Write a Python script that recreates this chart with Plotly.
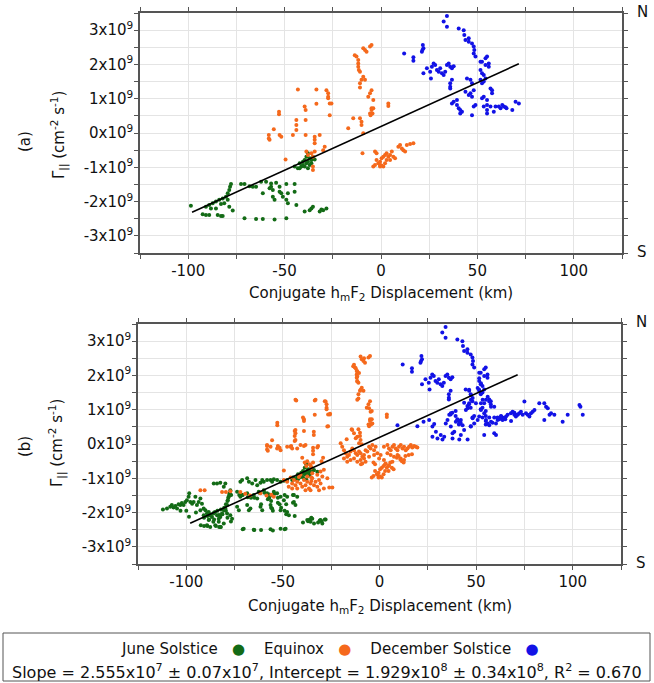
import plotly.graph_objects as go

W, H = 654, 683

# ---------------- DATA (x: km, y: flux in units of 1e9 cm^-2 s^-1) ----------------
june_a = [(-98.6,-2.12),(-92.5,-2.37),(-90.8,-2.39),(-89.1,-2.39),(-84.7,-2.39),(-83.0,-2.42),(-82.1,-2.42),(-76.9,-2.26),
 (-90.8,-2.15),(-89.1,-2.10),(-88.2,-2.20),(-87.3,-2.05),(-85.6,-2.00),(-83.9,-1.95),(-83.0,-2.07),(-82.1,-1.91),(-80.4,-1.86),
 (-79.5,-1.76),(-78.7,-1.66),(-78.3,-1.57),(-77.8,-1.49),(-79.5,-1.95),(-85.6,-2.20),(-78.7,-2.15),(-81.3,-2.05),
 (-70.8,-2.49),(-64.8,-2.51),(-61.3,-2.51),(-55.2,-2.52),(-49.1,-2.49),
 (-72.6,-1.49),(-70.8,-1.49),(-68.2,-1.55),(-66.5,-1.57),(-64.8,-1.57),(-62.2,-1.42),(-59.6,-1.42),(-57.0,-1.47),(-54.4,-1.45),
 (-61.3,-1.76),(-57.8,-1.61),(-56.1,-1.66),(-52.6,-1.57),(-49.1,-1.49),(-44.8,-1.49),(-57.0,-1.57),
 (-56.1,-1.86),(-55.2,-1.95),(-52.6,-1.71),(-50.9,-1.86),(-49.1,-1.95),(-48.3,-2.05),(-44.8,-1.71),(-43.9,-2.10),(-51.7,-1.76),(-48.3,-1.76),
 (-39.6,-2.29),(-37.0,-2.25),(-36.1,-2.20),(-35.3,-2.15),(-31.8,-2.29),(-30.9,-2.23),(-30.0,-2.25),(-28.3,-2.20),
 (-44.8,-0.98),(-43.1,-1.03),(-42.2,-0.88),(-40.5,-0.84),(-39.6,-0.79),(-38.7,-0.88),(-37.9,-0.84),(-37.0,-0.74),(-36.1,-0.79),
 (-35.3,-0.69),(-34.4,-0.77),(-41.3,-0.98),(-39.6,-0.98),(-37.9,-1.03),(-37.0,-0.93),(-36.1,-0.88),(-38.7,-0.69),(-40.5,-0.93),
 (-42.2,-1.03),(-37.9,-0.59)]

equinox_a = [(-52.9,0.62),(-52.9,0.55),(-55.6,0.11),(-58.2,-0.06),(-58.2,-0.16),(-57.8,-0.20),(-52.6,-0.06),(-51.7,-0.11),
 (-49.5,-0.77),(-45.7,-0.06),(-43.9,0.38),(-43.9,0.23),(-43.9,0.09),(-43.1,1.27),
 (-39.6,0.77),(-39.1,0.67),(-39.1,0.38),(-39.1,-0.06),
 (-33.5,1.27),(-33.5,0.85),(-34.4,-0.11),(-34.4,-0.20),(-34.4,-0.30),(-31.8,-0.06),(-28.3,1.25),(-27.4,1.16),(-27.4,1.06),
 (-27.4,1.01),(-26.6,0.86),(-26.6,0.52),(-25.7,0.86),
 (-38.7,-0.54),(-37.9,-0.64),(-36.1,-0.59),(-35.3,-0.69),(-35.3,-0.98),(-35.3,-1.08),(-34.4,-0.54),(-30.0,-0.50),(-29.2,-0.40),
 (-17.0,0.14),(-14.4,0.43),(-10.9,0.43),(-10.1,0.33),(-10.1,0.23),(-9.2,-0.01),(-9.6,-0.59),
 (-13.6,2.27),(-12.7,2.23),(-11.8,2.13),(-11.8,2.03),(-11.8,1.93),(-11.5,1.84),(-10.9,1.79),(-10.9,1.45),(-10.1,1.55),
 (-9.2,1.64),(-8.3,1.55),(-9.2,2.47),(-8.3,2.42),(-7.5,2.37),(-5.7,2.52),(-4.9,2.57),(-10.9,1.33),
 (-6.6,1.06),(-5.7,1.16),(-4.9,1.25),(-4.0,0.96),(-4.9,0.72),(-4.9,0.67),(-4.4,0.57),(-5.4,0.52),(-5.7,0.57),(-4.0,0.72),
 (3.8,0.86),(3.8,0.79),
 (-3.1,-0.54),(-2.3,-0.59),(-2.3,-0.79),(-1.4,-0.88),(-0.5,-0.93),(-0.5,-0.84),(0.3,-0.74),(1.2,-0.69),(2.1,-0.64),(2.9,-0.59),
 (3.8,-0.69),(4.7,-0.79),(4.7,-0.64),(5.6,-0.54),(6.4,-0.69),(7.3,-0.74),(-0.5,-0.98),(0.3,-0.95),(1.2,-0.98),(-4.0,-0.98),
 (-3.1,-0.93),(2.1,-0.88),(2.9,-0.79),
 (9.0,-0.40),(9.9,-0.35),(10.8,-0.45),(11.6,-0.50),(13.4,-0.35),(15.1,-0.32),(16.8,-0.30),(12.5,-0.54)]

december_a = [(32.5,3.25),(34.2,3.41),(34.2,3.10),(40.3,3.05),(42.9,3.00),(43.2,2.86),(43.8,2.71),(45.5,2.76),(45.5,2.66),
 (47.2,2.61),(48.1,2.52),(48.4,2.42),(48.1,2.32),(49.0,2.23),
 (21.7,2.57),(22.0,2.47),(21.5,2.42),(21.2,2.37),(12.0,2.32),(16.8,2.21),(16.8,2.11),
 (22.0,1.74),(23.8,1.89),(25.5,1.79),(26.4,1.93),(27.3,2.03),(28.1,1.98),(29.0,1.84),(29.9,1.79),(30.7,1.89),(31.6,1.74),
 (32.5,1.69),(33.3,1.79),(34.2,1.98),(35.1,2.03),(35.9,1.93),(36.8,1.89),(37.7,1.95),(25.9,1.59),(35.9,1.35),(35.9,1.30),
 (36.8,1.55),(35.9,1.45),
 (46.4,1.55),(47.2,1.45),(48.1,1.25),(47.2,1.06),(46.4,1.16),(43.8,1.20),(45.5,1.11),(51.6,1.84),(52.4,1.74),(51.6,1.55),
 (52.4,1.45),(53.3,1.50),(54.2,1.59),(54.2,2.18),(55.0,2.23),(55.9,2.03),(55.9,1.93),(54.2,1.98),(53.3,1.69),(53.3,1.06),
 (52.4,1.01),(55.0,0.96),(55.0,0.82),(57.6,1.25),(57.6,1.16),(56.8,1.30),(52.4,2.08),(51.6,2.08),(44.6,1.59),
 (36.8,0.86),(37.7,0.91),(39.4,0.82),(40.3,0.72),(41.1,0.67),(42.0,0.62),(41.1,0.57),(39.4,0.96),(47.2,0.52),(48.1,0.77),
 (49.0,0.82),(53.3,0.77),(55.0,0.67),(55.0,0.57),(56.8,0.77),(58.5,0.62),(59.4,0.77),(61.1,0.77),(62.0,0.72),(62.9,0.82),
 (63.7,0.77),(64.6,0.75),(65.1,0.72),(68.1,0.67),(69.8,0.91),(71.5,0.86)]

# additional points shown only in panel (b)
june_b_extra = [(-112.1,-1.91),(-110.0,-1.88),(-108.3,-1.83),(-107.5,-1.78),(-106.6,-1.85),(-105.7,-1.81),(-104.8,-1.88),
 (-104.0,-1.76),(-103.1,-1.78),(-102.3,-1.72),(-101.4,-1.78),(-100.5,-1.69),(-99.7,-1.64),(-98.8,-1.54),(-98.5,-1.44),
 (-97.9,-1.69),(-97.0,-1.74),(-96.2,-1.69),(-95.3,-1.54),(-94.5,-1.78),(-93.6,-1.69),(-92.7,-1.59),(-91.9,-1.74),(-91.0,-1.88),
 (-90.1,-1.93),(-89.3,-2.03),(-88.4,-1.98),(-87.6,-2.08),(-86.7,-2.13),(-85.8,-2.03),(-85.0,-1.98),(-84.1,-2.08),(-83.2,-2.18),
 (-82.4,-2.13),(-81.5,-2.03),(-80.6,-1.93),(-79.8,-1.88),(-78.9,-1.78),(-78.5,-1.64),(-78.0,-1.54),(-77.6,-1.44),(-77.2,-1.35),
 (-76.8,-1.49),(-78.9,-2.03),(-77.2,-2.08),(-76.3,-2.18),(-92.7,-1.93),(-91.0,-2.08),(-89.3,-2.37),(-87.6,-2.42),(-85.0,-2.37),
 (-82.4,-2.42),(-80.6,-2.32),(-88.4,-2.22),(-86.0,-2.27),(-83.2,-2.27),(-95.0,-2.00),(-100.0,-1.95),(-103.0,-1.95),
 (-85.8,-1.15),(-84.1,-1.15),(-82.4,-1.13),(-79.8,-1.15),(-80.6,-1.25),(-72.0,-1.10),(-71.1,-1.05),(-68.5,-1.00),(-67.6,-1.10),
 (-65.9,-1.15),(-64.2,-1.05),(-63.3,-1.20),(-61.6,-1.13),(-60.7,-1.05),(-59.9,-1.10),(-58.2,-1.05),(-56.4,-1.05),(-55.6,-1.10),
 (-54.7,-1.03),(-53.0,-1.05),(-51.2,-1.10),(-49.5,-1.07),(-47.8,-1.05),(-45.2,-1.05),(-44.3,-1.00),(-42.6,-0.96),(-40.9,-0.91),
 (-39.1,-0.86),(-37.4,-0.81),(-35.7,-0.86),(-33.9,-0.76),(-32.2,-0.81),
 (-73.7,-1.39),(-72.0,-1.54),(-71.1,-1.49),(-68.5,-1.44),(-66.8,-1.54),(-65.1,-1.49),(-63.3,-1.59),(-62.5,-1.39),(-59.9,-1.35),
 (-58.2,-1.44),(-57.3,-1.54),(-55.6,-1.49),(-54.7,-1.39),(-53.0,-1.44),(-51.2,-1.54),(-49.5,-1.64),(-47.8,-1.54),(-44.3,-1.49),
 (-42.6,-1.54),(-73.7,-1.83),(-72.8,-1.93),(-68.5,-1.78),(-67.6,-1.93),(-66.8,-1.88),(-61.6,-1.83),(-60.7,-1.93),(-56.4,-1.78),
 (-55.6,-1.88),(-51.2,-1.93),(-47.8,-1.98),(-46.9,-2.08),(-44.3,-1.69),(-43.5,-1.78),
 (-37.4,-2.22),(-35.7,-2.27),(-34.8,-2.18),(-33.9,-2.32),(-30.5,-2.22),(-29.6,-2.32),(-27.9,-2.20),(-51.2,-2.47),(-70.3,-2.47),
 (-65.1,-2.50),(-56.4,-2.49),(-48.6,-2.47)]

equinox_b_extra = [(-92.7,-1.35),(-90.5,-1.35),(-81.5,-1.40),(-79.5,-1.40),(-77.2,-1.38),(-72.0,-1.40),(-69.5,-1.45),(-67.0,-1.50),
 (-61.6,-1.44),(-58.5,-1.50),(-56.0,-1.48),(-54.7,-1.54),
 (-49.5,-1.05),(-47.8,-1.10),(-46.0,-0.98),(-45.2,-1.15),(-44.3,-1.05),(-43.5,-1.20),(-42.6,-1.10),(-41.7,-0.96),(-40.9,-1.15),
 (-40.0,-1.25),(-39.1,-1.05),(-38.3,-1.20),(-37.4,-1.10),(-36.5,-1.30),(-35.7,-1.15),(-34.8,-1.00),(-33.9,-1.20),(-33.1,-1.10),
 (-32.2,-1.25),(-31.3,-1.05),(-30.5,-1.15),(-29.6,-0.95),(-28.8,-1.30),(-27.0,-1.00),(-26.0,-1.27),(-24.4,-1.27),(-38.3,-1.35),
 (-35.7,-1.35),(-42.6,-1.30),(-45.2,-1.30),(-47.0,-1.25),(-34.8,-0.85),(-32.2,-0.90),(-30.5,-0.80),(-28.8,-0.75),(-40.9,-0.90),
 (-37.4,-0.95),(-31.3,-1.35),
 (-58.2,-0.03),(-56.4,-0.08),(-53.0,-0.13),(-51.2,-0.18),(-47.8,-0.08),(-45.2,-0.13),(-43.5,0.41),(-43.5,0.31),(-43.5,0.12),
 (-34.0,0.36),(-34.0,0.26),(-27.0,0.51),(-32.2,-0.10),(-40.9,-0.03),(-38.3,-0.03),(-46.1,-0.08),(-42.6,-0.13),(-40.0,-0.40),
 (-37.4,-0.50),(-35.7,-0.62),(-33.1,1.29),(-27.9,1.24),(-25.6,0.88),(-39.1,0.72),(-43.5,1.29),
 (-14.1,0.41),(-13.2,0.31),(-11.5,0.21),(-9.8,0.12),(-10.6,0.02),(-12.3,0.17),(-13.2,2.31),(-12.3,2.21),(-11.5,2.12),(-10.6,2.07),
 (-11.5,1.97),(-11.5,1.82),(-9.8,1.58),(-11.5,1.29),(-5.4,1.04),(-4.6,0.94),(-3.7,0.60),(-9.8,2.55),(-8.0,2.50),
 (-20.1,0.02),(-19.3,-0.08),(-18.4,-0.18),(-17.5,-0.27),(-16.7,-0.37),(-15.8,-0.32),(-15.0,-0.22),(-14.1,-0.13),(-13.2,-0.18),
 (-12.3,-0.27),(-11.5,-0.32),(-10.6,-0.22),(-9.8,-0.27),(-8.9,-0.37),(-8.0,-0.32),(-7.2,-0.18),(-6.3,-0.22),(-5.4,-0.08),
 (-4.6,-0.13),(-3.7,-0.03),(-2.8,-0.18),(-2.0,-0.08),(-1.1,-0.27),(-0.2,-0.42),(0.6,-0.32),(-18.4,-0.42),(-16.7,-0.52),
 (-15.0,-0.47),(-13.2,-0.42),(-11.5,-0.52),(-9.8,-0.47),(-8.0,-0.42),(-8.9,-0.57),(-7.2,-0.52),(-5.4,-0.37),(-2.8,-0.32),
 (2.3,-0.08),(4.1,-0.03),(4.9,-0.13),(5.8,-0.18),(6.7,-0.08),(7.5,-0.03),(8.4,-0.13),(9.3,-0.18),(10.1,-0.08),(11.0,-0.03),
 (11.9,-0.13),(12.7,-0.08),(13.6,-0.18),(14.5,-0.13),(15.3,-0.08),(16.2,-0.03),(17.0,-0.10),(17.9,-0.06),(18.8,-0.08),
 (19.6,-0.10),(4.1,-0.27),(5.8,-0.32),(7.5,-0.37),(9.3,-0.32),(11.0,-0.42),(12.7,-0.47),(2.3,-0.47),(3.2,-0.57),(4.9,-0.62),
 (6.7,-0.52)]

december_b_extra = [(9.3,0.55),(19.6,0.52),(22.8,0.65),(25.7,0.70),(27.4,0.51),(28.3,0.58),(29.2,0.36),(27.4,0.21),(30.0,0.16),
 (31.7,0.26),(32.6,0.13),(33.5,0.21),(34.3,0.60),(35.2,0.70),(36.1,0.85),(36.9,0.90),(36.9,0.51),(37.8,0.31),(37.8,0.16),
 (38.7,0.36),(39.5,0.65),(40.4,0.70),(41.3,0.60),(42.1,0.70),(43.0,0.55),(41.3,0.13),(42.1,0.26),(43.8,0.41),(45.6,0.13),
 (44.7,0.99),(45.6,1.04),(46.4,1.19),(47.3,1.29),(48.2,0.75),(47.3,0.51),(49.0,0.60),(50.8,0.70),(51.6,0.80),(52.5,0.99),
 (54.2,0.90),(54.2,0.26),(55.1,0.70),(56.0,0.60),(56.8,0.55),(57.7,0.65),(59.4,0.31),(60.3,0.26),(60.3,0.60),(61.1,0.70),
 (62.0,0.75),(62.9,0.80),(63.7,0.70),(64.6,0.75),(65.5,0.80),(66.3,0.85),(68.0,0.90),(68.9,0.94),(69.8,0.85),(70.6,0.80),
 (71.5,0.85),(72.4,0.90),(73.2,0.94),(74.1,0.85),(75.0,1.24),(75.8,0.90),(76.7,0.85),(77.6,0.80),(78.4,0.90),(79.3,0.94),
 (80.2,0.99),(82.7,1.19),(85.3,1.19),(86.2,1.09),(87.1,1.04),(88.0,0.85),(88.8,0.90),(90.5,0.85),(85.3,0.70),(94.8,0.65),
 (97.4,0.85),(103.5,1.14),(104.0,1.09),(105.2,0.85),
 (51.6,1.92),(52.5,1.77),(50.8,1.63),(51.6,1.58),(52.5,1.48),(53.4,1.29),(54.2,1.19),(55.1,1.29),(56.0,1.38),(56.8,1.24),
 (57.7,1.09),(59.4,1.09),(52.5,1.19),(46.4,1.58),(47.3,1.43),(48.2,1.34),(49.9,1.19)]

# linear fit (from the legend text), flux per km in units of 1e9
fit_slope = 2.555e7 / 1e9
fit_intercept = 1.929e8 / 1e9
fit_x = [-98.0, 71.5]

x_tick_vals = [-100, -50, 0, 50, 100]
x_tick_text = ["-100", "-50", "0", "50", "100"]
y_tick_vals = [-3, -2, -1, 0, 1, 2, 3]
y_tick_text = ["-3x10<sup>9</sup>", "-2x10<sup>9</sup>", "-1x10<sup>9</sup>", "0x10<sup>9</sup>",
               "1x10<sup>9</sup>", "2x10<sup>9</sup>", "3x10<sup>9</sup>"]

series_names = ["June Solstice", "Equinox", "December Solstice"]
colors = ["#136b16", "#f5691c", "#1212e6"]

FONT = "DejaVu Sans"
AXIS_COLOR = "#555555"
GRID_COLOR = "#e4e4e4"

def px(x):
    return x / W

def py(y):
    return 1 - y / H

fig = go.Figure()

panels = [
    ("x", "y", [june_a, equinox_a, december_a]),
    ("x2", "y2", [june_a + june_b_extra, equinox_a + equinox_b_extra, december_a + december_b_extra]),
]
for xa, ya, sets in panels:
    for name, col, pts in zip(series_names, colors, sets):
        fig.add_trace(go.Scatter(
            x=[p[0] for p in pts], y=[p[1] for p in pts], mode="markers",
            marker=dict(color=col, size=4, line=dict(width=0)),
            name=name, showlegend=False, xaxis=xa, yaxis=ya))
    fig.add_trace(go.Scatter(
        x=fit_x, y=[fit_slope * v + fit_intercept for v in fit_x], mode="lines",
        line=dict(color="black", width=1.6), showlegend=False, xaxis=xa, yaxis=ya))

common = dict(ticks="outside", ticklen=4, tickcolor=AXIS_COLOR, tickwidth=1, mirror="ticks",
              showline=True, linecolor=AXIS_COLOR, linewidth=1.5, showgrid=True, gridcolor=GRID_COLOR,
              gridwidth=1, zeroline=False, tickfont=dict(family=FONT, size=15, color="#111"),
              tickmode="array")

def xaxis(domain, anchor):
    return dict(domain=domain, anchor=anchor, range=[-125, 125], tickvals=x_tick_vals, ticktext=x_tick_text,
                minor=dict(tickvals=[-125, -75, -25, 25, 75, 125], ticks="outside", ticklen=4,
                           tickcolor=AXIS_COLOR, showgrid=True, gridcolor=GRID_COLOR, gridwidth=1),
                ticklabelstandoff=-1, **common)

def yaxis(domain, anchor):
    return dict(domain=domain, anchor=anchor, range=[-3.5, 3.5], tickvals=y_tick_vals, ticktext=y_tick_text,
                minor=dict(tickvals=[-3.5, -2.5, -1.5, -0.5, 0.5, 1.5, 2.5, 3.5], ticks="outside", ticklen=4,
                           tickcolor=AXIS_COLOR, showgrid=True, gridcolor=GRID_COLOR, gridwidth=1),
                ticklabelstandoff=-2, **common)

fig.update_layout(
    width=W, height=H, margin=dict(l=0, r=0, t=0, b=0),
    paper_bgcolor="white", plot_bgcolor="white",
    xaxis=xaxis([px(140), px(622)], "y"),
    yaxis=yaxis([py(253), py(13)], "x"),
    xaxis2=xaxis([px(138), px(621)], "y2"),
    yaxis2=yaxis([py(564), py(324)], "x2"),
)

ann = []
def txt(x, y, s, size=15, angle=0, xanchor="center"):
    ann.append(dict(x=px(x), y=py(y), xref="paper", yref="paper", text=s, showarrow=False,
                    textangle=angle, xanchor=xanchor, yanchor="middle",
                    font=dict(family=FONT, size=size, color="#111")))

xtitle = "Conjugate h<sub>m</sub>F<sub>2</sub> Displacement (km)"
ytitle = "\u0393<sub>||</sub> (cm<sup>-2</sup> s<sup>-1</sup>)"
txt(381, 294, xtitle, 15)
txt(380, 606, xtitle, 15)
txt(25, 142, "(a)", 15, -90)
txt(59, 135, ytitle, 15, -90)
txt(25, 447, "(b)", 15, -90)
txt(57, 443, ytitle, 15, -90)
txt(642, 12, "N", 15)
txt(642, 252, "S", 15)
txt(641, 322, "N", 15)
txt(641, 563, "S", 15)

sp = "\u00a0"
dot = lambda c: "<span style='color:%s;font-size:15px'>\u25CF</span>" % c
legend_line = (series_names[0] + sp * 3 + dot(colors[0]) + sp * 4 + series_names[1] + sp * 3 + dot(colors[1])
               + sp * 4 + series_names[2] + sp * 3 + dot(colors[2]))
txt(330, 649, legend_line, 15)
stats_line = ("Slope = 2.555x10<sup>7</sup> \u00b1 0.07x10<sup>7</sup>, Intercept = 1.929x10<sup>8</sup> "
              "\u00b1 0.34x10<sup>8</sup>, R<sup>2</sup> = 0.670")
txt(327, 671, stats_line, 16)

fig.update_layout(annotations=ann, shapes=[dict(type="rect", xref="paper", yref="paper",
                  x0=px(3), x1=px(650), y0=py(681), y1=py(633), line=dict(color=AXIS_COLOR, width=1))])

fig.write_html("out.html", config={"displayModeBar": False},
               post_script="document.body.style.margin='0';document.body.style.overflow='hidden';")
